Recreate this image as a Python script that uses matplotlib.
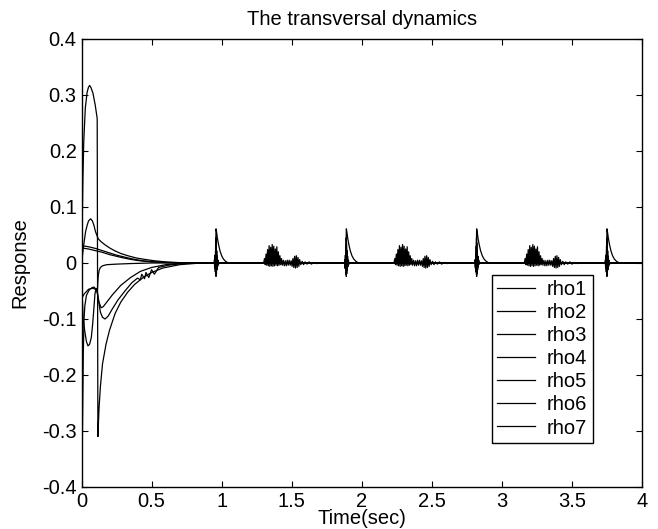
import matplotlib
matplotlib.use("Agg")
import matplotlib.pyplot as plt

# ---- values -------------------------------------------------------------
# start-up transient of every rho (time in s, response)
rho1_t = [0, 0.004, 0.010, 0.016, 0.027, 0.040, 0.050, 0.058, 0.068, 0.082, 0.098, 0.112,
          0.117, 0.125, 0.135, 0.150, 0.175, 0.200, 0.240, 0.280, 0.330, 0.380, 0.440,
          0.500, 0.580, 0.700, 0.850]
rho1_v = [0, 0.05, 0.15, 0.216, 0.276, 0.305, 0.314, 0.317, 0.313, 0.303, 0.282, 0.258,
          -0.31, -0.26, -0.22, -0.18, -0.145, -0.12, -0.09, -0.07, -0.052, -0.038, -0.026,
          -0.017, -0.009, -0.003, 0]

rho2_t = [0, 0.010, 0.020, 0.030, 0.040, 0.050, 0.065, 0.078, 0.089, 0.100, 0.106, 0.112,
          0.120, 0.140, 0.165, 0.200, 0.236, 0.280, 0.330, 0.390, 0.450, 0.520, 0.600, 0.750]
rho2_v = [0, 0.02, 0.04, 0.057, 0.067, 0.075, 0.079, 0.075, 0.067, 0.056, 0.052, 0.048,
          0.043, 0.038, 0.033, 0.027, 0.022, 0.017, 0.013, 0.009, 0.0065, 0.004, 0.002, 0]

rho3_t = [0, 0.05, 0.10, 0.15, 0.20, 0.25, 0.30, 0.35, 0.40, 0.45, 0.50, 0.60, 0.75]
rho3_v = [0.031, 0.029, 0.026, 0.022, 0.018, 0.014, 0.011, 0.008, 0.0055, 0.0037, 0.0025, 0.001, 0]

rho4_t = [0, 0.05, 0.10, 0.15, 0.20, 0.25, 0.30, 0.35, 0.40, 0.45, 0.50, 0.60, 0.75]
rho4_v = [0.027, 0.025, 0.022, 0.019, 0.015, 0.012, 0.009, 0.0065, 0.0045, 0.003, 0.002, 0.0008, 0]

rho5_t = [0, 0.005, 0.012, 0.023, 0.035, 0.046, 0.058, 0.070, 0.080, 0.089, 0.096, 0.104,
          0.112, 0.120, 0.135, 0.150, 0.168, 0.190, 0.220, 0.260, 0.310, 0.360, 0.400,
          0.420, 0.430, 0.450, 0.460, 0.480, 0.500, 0.520, 0.550, 0.620, 0.750]
rho5_v = [0, -0.06, -0.10, -0.121, -0.14, -0.148, -0.145, -0.133, -0.108, -0.079, -0.055, -0.046,
          -0.05, -0.065, -0.088, -0.097, -0.10, -0.095, -0.082, -0.066, -0.05, -0.035, -0.027,
          -0.03, -0.02, -0.028, -0.017, -0.026, -0.012, -0.02, -0.008, -0.004, 0]

rho6_t = [0, 0.003, 0.006, 0.009, 0.013, 0.018, 0.024, 0.035, 0.055, 0.075, 0.090, 0.106,
          0.114, 0.125, 0.140, 0.155, 0.180, 0.220, 0.280, 0.350, 0.420, 0.500, 0.600, 0.750]
rho6_v = [0, -0.17, -0.32, -0.25, -0.16, -0.10, -0.076, -0.058, -0.048, -0.044, -0.043, -0.048,
          -0.055, -0.07, -0.08, -0.078, -0.07, -0.057, -0.04, -0.026, -0.015, -0.008, -0.003, 0]

rho7_t = [0, 0.020, 0.050, 0.080, 0.100, 0.114, 0.116, 0.120, 0.126, 0.135, 0.150, 0.180,
          0.250, 0.350, 0.500]
rho7_v = [-0.064, -0.055, -0.047, -0.045, -0.047, -0.045, -0.035, -0.022, -0.013, -0.008,
          -0.005, -0.003, -0.002, -0.001, 0]

# recurring switching events
spike_times = [0.958, 1.888, 2.818, 3.748]
burst_times = [1.300, 2.230, 3.160]

# shapes around each event (offset in s, response)
osc_dt = [-0.012, -0.009, -0.007, -0.005, -0.003, -0.001, 0.001, 0.003, 0.005, 0.007,
          0.009, 0.011, 0.014, 0.017, 0.021, 0.026]
osc_v = [0, 0.006, -0.008, 0.014, -0.016, 0.03, -0.021, 0.036, -0.019, 0.022,
         -0.012, 0.012, -0.006, 0.005, -0.002, 0]

hump_dt = [-0.003, 0.0, 0.002, 0.006, 0.012, 0.020, 0.030, 0.042, 0.055, 0.070, 0.090]
hump_v = [0, 0.03, 0.061, 0.055, 0.044, 0.033, 0.022, 0.013, 0.007, 0.003, 0]

kick_dt = [-0.002, 0.001, 0.003, 0.006, 0.010, 0.015, 0.022]
kick_v = [0, 0.045, 0.03, 0.014, 0.005, 0.001, 0]

dip_dt = [-0.010, -0.006, -0.002, 0.002, 0.006, 0.010, 0.014]
dip_v = [0, -0.01, 0.012, -0.024, 0.01, -0.008, 0]

burst_dt = [0, 0.006, 0.011, 0.017, 0.022, 0.028, 0.033, 0.039, 0.044, 0.050, 0.055, 0.061,
            0.066, 0.072, 0.077, 0.083, 0.088, 0.094, 0.099, 0.105, 0.110, 0.116, 0.121, 0.127,
            0.133, 0.140, 0.147, 0.154, 0.161, 0.168, 0.175, 0.182, 0.189, 0.196,
            0.203, 0.209, 0.215, 0.221, 0.227, 0.233, 0.239, 0.245, 0.251, 0.257,
            0.265, 0.275, 0.285, 0.295, 0.310, 0.325, 0.340, 0.360, 0.380, 0.400]
burst_v = [0, 0.008, -0.003, 0.016, -0.004, 0.024, -0.005, 0.031, -0.006, 0.028, -0.005, 0.033,
           -0.006, 0.03, -0.005, 0.025, -0.004, 0.029, -0.005, 0.02, -0.004, 0.013, -0.003, 0.008,
           -0.004, 0.005, -0.005, 0.004, -0.005, 0.005, -0.004, 0.005, -0.004, 0.004,
           -0.006, 0.008, -0.008, 0.012, -0.009, 0.013, -0.008, 0.01, -0.006, 0.006,
           -0.003, 0.003, -0.003, 0.002, -0.002, 0.002, -0.002, 0.001, -0.001, 0]

t_end = 4.0
x_ticks = [0, 0.5, 1, 1.5, 2, 2.5, 3, 3.5, 4]
x_labels = ['0', '0.5', '1', '1.5', '2', '2.5', '3', '3.5', '4']
y_ticks = [-0.4, -0.3, -0.2, -0.1, 0, 0.1, 0.2, 0.3, 0.4]
y_labels = ['-0.4', '-0.3', '-0.2', '-0.1', '0', '0.1', '0.2', '0.3', '0.4']
names = ['rho1', 'rho2', 'rho3', 'rho4', 'rho5', 'rho6', 'rho7']


def build(t0, v0, events):
    """Append event shapes (placed at their event times) to a transient."""
    pts = []
    for times, dts, vals in events:
        for tc in times:
            pts += [(tc + d, v) for d, v in zip(dts, vals)]
    pts.sort()
    t = list(t0) + [p[0] for p in pts] + [t_end]
    v = list(v0) + [p[1] for p in pts] + [0]
    return t, v


series = [
    build(rho1_t, rho1_v, [(spike_times, osc_dt, osc_v), (burst_times, burst_dt, burst_v)]),
    build(rho2_t, rho2_v, [(spike_times, hump_dt, hump_v)]),
    build(rho3_t, rho3_v, [(spike_times, kick_dt, kick_v)]),
    build(rho4_t, rho4_v, [(spike_times, dip_dt, dip_v)]),
    build(rho5_t, rho5_v, []),
    build(rho6_t, rho6_v, []),
    build(rho7_t, rho7_v, []),
]

plt.rcParams['font.family'] = ['Liberation Sans', 'DejaVu Sans']
plt.rcParams['axes.unicode_minus'] = False
fs = 14.5

fig = plt.figure(figsize=(6.58, 5.29), dpi=100)
ax = fig.add_axes([81.5 / 658, 1 - 487 / 529, (642 - 81.5) / 658, (487 - 39) / 529])

for (t, v), name in zip(series, names):
    ax.plot(t, v, color='black', linewidth=0.9, label=name)

ax.set_xlim(0, 4)
ax.set_ylim(-0.4, 0.4)
ax.set_xticks(x_ticks)
ax.set_xticklabels(x_labels)
ax.set_yticks(y_ticks)
ax.set_yticklabels(y_labels)
ax.tick_params(direction='in', length=4, width=0.8, top=True, right=True,
               labelsize=fs, pad=3.5)
for sp in ax.spines.values():
    sp.set_linewidth(1.0)

ax.set_title('The transversal dynamics', fontsize=fs, pad=10)
ax.set_xlabel('Time(sec)', fontsize=fs, labelpad=-1)
ax.set_ylabel('Response', fontsize=fs, labelpad=9)

leg = ax.legend(loc='upper left', bbox_to_anchor=(491.7 / 658, 1 - 274.7 / 529),
                bbox_transform=fig.transFigure, fontsize=fs, frameon=True,
                fancybox=False, framealpha=1, edgecolor='black',
                handlelength=1.85, handletextpad=0.6, labelspacing=0.2,
                borderpad=0.28, borderaxespad=0)
leg.get_frame().set_linewidth(1.0)

fig.savefig('out.png', dpi=100)
